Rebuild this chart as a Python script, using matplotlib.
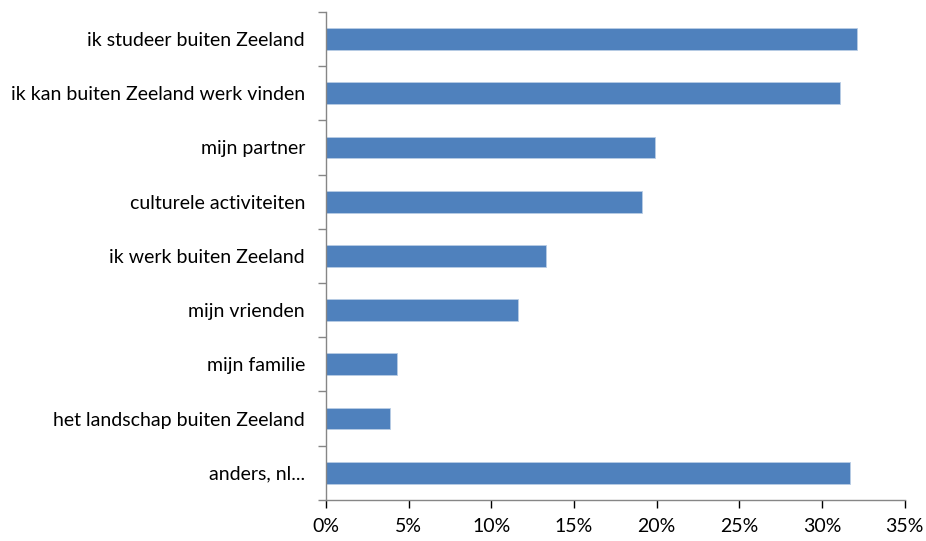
import matplotlib.pyplot as plt
from matplotlib.ticker import FuncFormatter

# =====================
# DATA
# =====================
labels = [
    "ik studeer buiten Zeeland",
    "ik kan buiten Zeeland werk vinden",
    "mijn partner",
    "culturele activiteiten",
    "ik werk buiten Zeeland",
    "mijn vrienden",
    "mijn familie",
    "het landschap buiten Zeeland",
    "anders, nl...",
]
values = [32.1, 31.1, 19.9, 19.1, 13.3, 11.6, 4.3, 3.9, 31.7]
x_ticks = [0, 5, 10, 15, 20, 25, 30, 35]

# =====================
# PLOT
# =====================
plt.rcParams["font.family"] = ["Lato", "DejaVu Sans"]

fig = plt.figure(figsize=(9.26, 5.41), dpi=100)
ax = fig.add_axes([0.352, 0.076, 0.625, 0.902])

pos = list(range(len(labels)))[::-1]
ax.barh(pos, values, height=0.4, color="#4F81BD", edgecolor="#B9CDE5", linewidth=0.6)

ax.set_xlim(0, 35)
ax.set_ylim(-0.5, len(labels) - 0.5)
ax.set_xticks(x_ticks)
ax.xaxis.set_major_formatter(FuncFormatter(lambda v, _: f"{v:.0f}%"))

ax.set_yticks(pos)
ax.set_yticklabels(labels)
# tick marks sit between the categories
ax.set_yticks([p - 0.5 for p in range(len(labels) + 1)], minor=True)
ax.tick_params(axis="y", which="major", length=0, pad=15)
ax.tick_params(axis="y", which="minor", length=6, color="#868686", width=1)
ax.tick_params(axis="x", length=6, color="#868686", width=1, pad=7)
ax.tick_params(labelsize=14, colors="black")
ax.tick_params(axis="y", which="minor", colors="#868686")

for side in ["top", "right"]:
    ax.spines[side].set_visible(False)
for side in ["left", "bottom"]:
    ax.spines[side].set_color("#868686")
    ax.spines[side].set_linewidth(1)

fig.savefig("out.png", dpi=100)
